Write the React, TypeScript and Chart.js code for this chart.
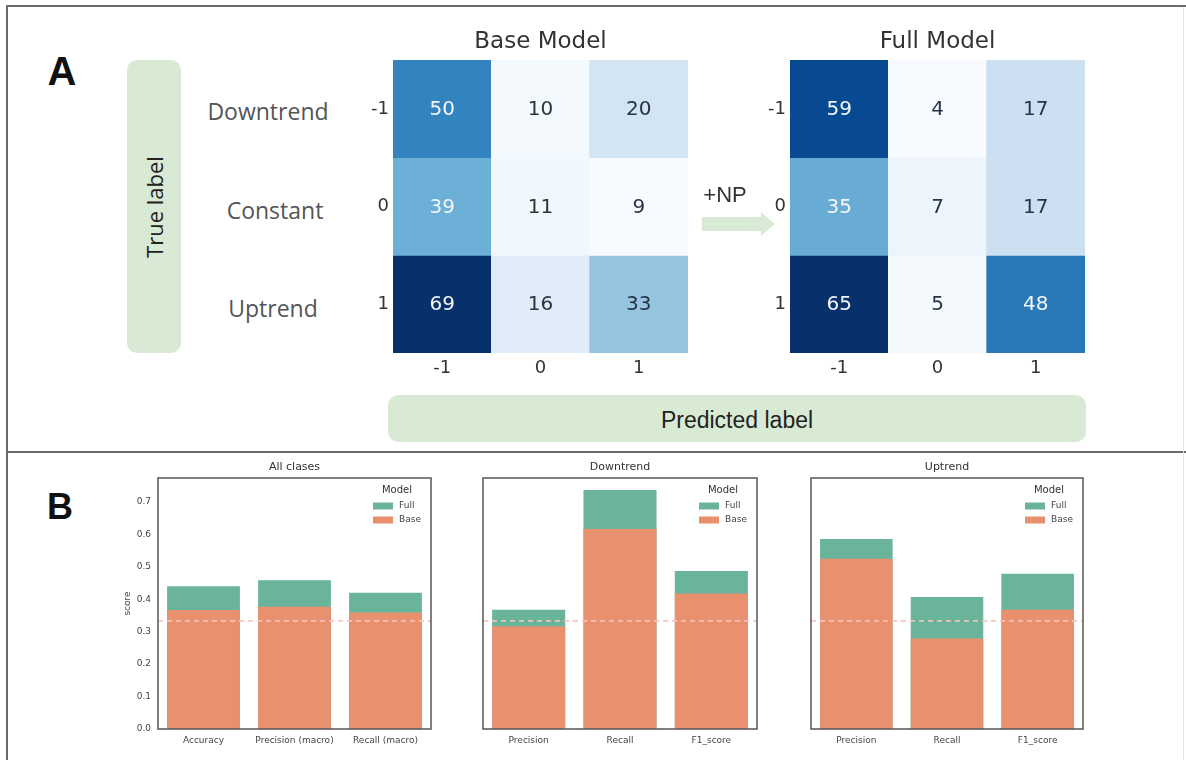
import React, { useEffect, useRef } from 'react';
import { Chart, registerables } from 'chart.js';

Chart.register(...registerables);

// ---------- data ----------
const matrixCols = ['-1', '0', '1'];
const matrixRows = ['-1', '0', '1'];
const rowNames = ['Downtrend', 'Constant', 'Uptrend'];
const baseMatrix = [
  [50, 10, 20],
  [39, 11, 9],
  [69, 16, 33],
];
const fullMatrix = [
  [59, 4, 17],
  [35, 7, 17],
  [65, 5, 48],
];

const overallMetrics = ['Accuracy', 'Precision (macro)', 'Recall (macro)'];
const overallBase = [0.367, 0.377, 0.359];
const overallFull = [0.44, 0.459, 0.42];
const classMetrics = ['Precision', 'Recall', 'F1_score'];
const downBase = [0.317, 0.617, 0.418];
const downFull = [0.368, 0.737, 0.487];
const upBase = [0.525, 0.279, 0.368];
const upFull = [0.586, 0.407, 0.479];
const chanceLevel = 1 / 3;
const scoreTicks = [0, 0.1, 0.2, 0.3, 0.4, 0.5, 0.6, 0.7];
const scoreMax = 0.774;

// ---------- styling ----------
const BLUES = ['#f7fbff', '#deebf7', '#c6dbef', '#9ecae1', '#6baed6', '#4292c6', '#2171b5', '#08519c', '#08306b'];
const TEAL = '#6bb49c';
const ORANGE = '#e9916f';
const GREEN_BOX = '#d9ead4';

function hexToRgb(h: string) {
  const n = parseInt(h.slice(1), 16);
  return [(n >> 16) & 255, (n >> 8) & 255, n & 255];
}
function bluesRgb(t: number) {
  const c = Math.max(0, Math.min(1, t));
  const p = c * (BLUES.length - 1);
  const i = Math.min(BLUES.length - 2, Math.floor(p));
  const f = p - i;
  const a = hexToRgb(BLUES[i]);
  const b = hexToRgb(BLUES[i + 1]);
  return a.map((v, k) => Math.round(v + (b[k] - v) * f));
}
function luminance(rgb: number[]) {
  const lin = rgb.map((v) => {
    const s = v / 255;
    return s <= 0.03928 ? s / 12.92 : Math.pow((s + 0.055) / 1.055, 2.4);
  });
  return 0.2126 * lin[0] + 0.7152 * lin[1] + 0.0722 * lin[2];
}

function titlePlugin(text: string, size: number, offset: number) {
  return {
    id: 'customTitle',
    afterDraw(chart: any) {
      const { ctx, chartArea } = chart;
      ctx.save();
      ctx.font = `${size}px "DejaVu Sans"`;
      ctx.fillStyle = '#333';
      ctx.textAlign = 'center';
      ctx.textBaseline = 'middle';
      ctx.fillText(text, (chartArea.left + chartArea.right) / 2, chartArea.top - offset);
      ctx.restore();
    },
  };
}

function Heatmap({ title, matrix, left, top }: { title: string; matrix: number[][]; left: number; top: number }) {
  const ref = useRef<HTMLCanvasElement>(null);
  useEffect(() => {
    const flat = matrix.flat();
    const lo = Math.min(...flat);
    const hi = Math.max(...flat);
    const norm = (v: number) => (v - lo) / (hi - lo);
    const cellText = {
      id: 'cellText',
      afterDatasetsDraw(chart: any) {
        const { ctx } = chart;
        ctx.save();
        ctx.font = '20px "DejaVu Sans"';
        ctx.textAlign = 'center';
        ctx.textBaseline = 'middle';
        chart.data.datasets.forEach((_ds: any, ri: number) => {
          const meta = chart.getDatasetMeta(ri);
          meta.data.forEach((bar: any, ci: number) => {
            const p = bar.getProps(['x', 'y', 'base'], true);
            const v = matrix[ri][ci];
            const rgb = bluesRgb(norm(v));
            ctx.fillStyle = luminance(rgb) > 0.408 ? '#283445' : '#f2f6fa';
            ctx.fillText(String(v), p.x, (p.y + p.base) / 2 + 1);
          });
        });
        ctx.restore();
      },
    };
    const chart = new Chart(ref.current as HTMLCanvasElement, {
      type: 'bar',
      data: {
        labels: matrixCols,
        datasets: matrixRows.map((r, ri) => ({
          label: r,
          data: matrixCols.map(() => [ri, ri + 1]) as any,
          backgroundColor: matrix[ri].map((v) => {
            const c = bluesRgb(norm(v));
            return `rgb(${c[0]},${c[1]},${c[2]})`;
          }),
          borderWidth: 0,
          barPercentage: 1,
          categoryPercentage: 1,
          grouped: false,
        })),
      },
      options: {
        animation: false,
        responsive: false,
        layout: { padding: { left: 0, right: 7, top: 40, bottom: 0 } },
        plugins: { legend: { display: false }, tooltip: { enabled: false }, title: { display: false } },
        scales: {
          x: {
            grid: { display: false, drawTicks: false },
            border: { display: false },
            ticks: { font: { family: 'DejaVu Sans', size: 18 }, color: '#333', padding: 5 },
            afterFit: (s: any) => {
              s.height = 37;
            },
          },
          y: {
            min: 0,
            max: 3,
            reverse: true,
            grid: { display: false, drawTicks: false },
            border: { display: false },
            afterBuildTicks: (s: any) => {
              s.ticks = matrixRows.map((_r, i) => ({ value: i + 0.5 }));
            },
            ticks: {
              callback: (_v: any, i: number) => matrixRows[i],
              font: { family: 'DejaVu Sans', size: 18 },
              color: '#333',
              padding: 4,
            },
            afterFit: (s: any) => {
              s.width = 43;
            },
          },
        },
      },
      plugins: [cellText, titlePlugin(title, 23, 18)],
    });
    return () => chart.destroy();
  }, []);
  return (
    <canvas
      ref={ref}
      width={345}
      height={370}
      style={{ position: 'absolute', left, top, width: 345, height: 370 }}
    />
  );
}

function ScorePanel({
  title,
  cats,
  base,
  full,
  left,
  showY,
  axisWidth,
  padRight,
}: {
  title: string;
  cats: string[];
  base: number[];
  full: number[];
  left: number;
  showY: boolean;
  axisWidth: number;
  padRight: number;
}) {
  const ref = useRef<HTMLCanvasElement>(null);
  useEffect(() => {
    const frame = {
      id: 'frame',
      afterDatasetsDraw(chart: any) {
        const { ctx, chartArea, scales } = chart;
        ctx.save();
        // chance line
        const yy = scales.y.getPixelForValue(chanceLevel);
        ctx.strokeStyle = 'rgba(248, 196, 190, 0.95)';
        ctx.lineWidth = 1.6;
        ctx.setLineDash([5, 4]);
        ctx.beginPath();
        ctx.moveTo(chartArea.left, yy);
        ctx.lineTo(chartArea.right, yy);
        ctx.stroke();
        ctx.setLineDash([]);
        // box
        ctx.strokeStyle = '#555';
        ctx.lineWidth = 1.5;
        ctx.strokeRect(chartArea.left, chartArea.top, chartArea.right - chartArea.left, chartArea.bottom - chartArea.top);
        // legend
        const r = chartArea.right;
        const t = chartArea.top;
        ctx.fillStyle = '#333';
        ctx.textAlign = 'center';
        ctx.textBaseline = 'middle';
        ctx.font = '10px "DejaVu Sans"';
        ctx.fillText('Model', r - 34, t + 12);
        ctx.font = '9px "DejaVu Sans"';
        const items = chart.data.datasets.slice().reverse();
        items.forEach((ds: any, i: number) => {
          const y = t + 28 + i * 14;
          ctx.fillStyle = ds.backgroundColor;
          ctx.fillRect(r - 58, y - 3.5, 20, 7);
          ctx.fillStyle = '#444';
          ctx.textAlign = 'left';
          ctx.fillText(ds.label, r - 32, y);
        });
        ctx.restore();
      },
    };
    const chart = new Chart(ref.current as HTMLCanvasElement, {
      type: 'bar',
      data: {
        labels: cats,
        datasets: [
          { label: 'Base', data: base, backgroundColor: ORANGE, order: 0, grouped: false, borderWidth: 0 },
          { label: 'Full', data: full, backgroundColor: TEAL, order: 1, grouped: false, borderWidth: 0 },
        ],
      },
      options: {
        animation: false,
        responsive: false,
        datasets: { bar: { categoryPercentage: 0.8, barPercentage: 1 } },
        layout: { padding: { left: 0, right: padRight, top: 23, bottom: 0 } },
        plugins: { legend: { display: false }, tooltip: { enabled: false }, title: { display: false } },
        scales: {
          x: {
            grid: { display: false, drawTicks: false },
            border: { display: false },
            ticks: {
              font: { family: 'DejaVu Sans', size: 9 },
              color: '#444',
              padding: 6,
              maxRotation: 0,
              autoSkip: false,
            },
            afterFit: (s: any) => {
              s.height = 26;
            },
          },
          y: {
            display: true,
            min: 0,
            max: scoreMax,
            grid: { display: false, drawTicks: false },
            border: { display: false },
            afterBuildTicks: (s: any) => {
              s.ticks = scoreTicks.map((v) => ({ value: v }));
            },
            ticks: {
              display: showY,
              callback: (v: any) => Number(v).toFixed(1),
              font: { family: 'DejaVu Sans', size: 9 },
              color: '#444',
              padding: 7,
            },
            title: {
              display: showY,
              text: 'score',
              font: { family: 'DejaVu Sans', size: 9 },
              color: '#444',
              padding: { top: 12, bottom: 0 },
            },
            afterFit: (s: any) => {
              s.width = axisWidth;
            },
          },
        },
      },
      plugins: [frame, titlePlugin(title, 11, 11)],
    });
    return () => chart.destroy();
  }, []);
  return (
    <canvas
      ref={ref}
      width={330}
      height={300}
      style={{ position: 'absolute', left, top: 455, width: 330, height: 300 }}
    />
  );
}

function Label({
  text,
  x,
  y,
  size,
  family,
  color,
  weight,
  rotate,
}: {
  text: string;
  x: number;
  y: number;
  size: number;
  family: string;
  color: string;
  weight?: number | string;
  rotate?: number;
}) {
  return (
    <div
      style={{
        position: 'absolute',
        left: x,
        top: y,
        transform: `translate(-50%, -50%)${rotate ? ` rotate(${rotate}deg)` : ''}`,
        fontSize: size,
        fontFamily: family,
        color,
        fontWeight: weight ?? 400,
        whiteSpace: 'nowrap',
        lineHeight: 1,
        zIndex: 2,
      }}
    >
      {text}
    </div>
  );
}

export default function App() {
  const line = '#6a6a6a';
  return (
    <div
      style={{
        position: 'absolute',
        left: 0,
        top: 0,
        width: 1186,
        height: 760,
        background: '#fff',
        overflow: 'hidden',
      }}
    >
      {/* frame lines */}
      <div style={{ position: 'absolute', left: 6, top: 5, width: 1180, height: 2, background: line }} />
      <div style={{ position: 'absolute', left: 6, top: 5, width: 2, height: 755, background: line }} />
      <div style={{ position: 'absolute', left: 6, top: 451, width: 1180, height: 2, background: line }} />
      <div style={{ position: 'absolute', left: 1183, top: 7, width: 1, height: 753, background: '#e4e4e4' }} />

      {/* panel letters */}
      <Label text="A" x={62} y={71} size={40} family="'Liberation Sans', Arial, sans-serif" color="#111" weight={700} />
      <Label text="B" x={60} y={507} size={36} family="'Liberation Sans', Arial, sans-serif" color="#111" weight={700} />

      {/* True label box */}
      <div
        style={{
          position: 'absolute',
          left: 127,
          top: 60,
          width: 54,
          height: 293,
          background: GREEN_BOX,
          borderRadius: 10,
        }}
      />
      <Label text="True label" x={154} y={207} size={22} family="'Open Sans', sans-serif" color="#222" rotate={-90} />

      {/* row names */}
      <Label text={rowNames[0]} x={268} y={111} size={23} family="'Open Sans', sans-serif" color="#555" />
      <Label text={rowNames[1]} x={275} y={210} size={23} family="'Open Sans', sans-serif" color="#555" />
      <Label text={rowNames[2]} x={273} y={308} size={23} family="'Open Sans', sans-serif" color="#555" />

      {/* Predicted label box */}
      <div
        style={{
          position: 'absolute',
          left: 388,
          top: 395,
          width: 698,
          height: 47,
          background: GREEN_BOX,
          borderRadius: 10,
        }}
      />
      <Label text="Predicted label" x={737} y={420} size={23} family="'Liberation Sans', Arial, sans-serif" color="#222" />

      {/* heatmaps */}
      <Heatmap title="Base Model" matrix={baseMatrix} left={350} top={20} />
      <Heatmap title="Full Model" matrix={fullMatrix} left={747} top={20} />

      {/* arrow */}
      <Label text="+NP" x={725} y={195} size={22} family="'Liberation Sans', Arial, sans-serif" color="#333" />
      <div style={{ position: 'absolute', left: 702, top: 217, width: 60, height: 14, background: GREEN_BOX, zIndex: 2 }} />
      <div
        style={{
          position: 'absolute',
          left: 761,
          top: 212,
          width: 0,
          height: 0,
          borderTop: '12px solid transparent',
          borderBottom: '12px solid transparent',
          borderLeft: `14px solid ${GREEN_BOX}`,
          zIndex: 2,
        }}
      />

      {/* score panels */}
      <ScorePanel title="All clases" cats={overallMetrics} base={overallBase} full={overallFull} left={110} showY={true} axisWidth={48} padRight={9} />
      <ScorePanel title="Downtrend" cats={classMetrics} base={downBase} full={downFull} left={440} showY={false} axisWidth={43} padRight={13} />
      <ScorePanel title="Uptrend" cats={classMetrics} base={upBase} full={upFull} left={770} showY={false} axisWidth={41} padRight={17} />
    </div>
  );
}
